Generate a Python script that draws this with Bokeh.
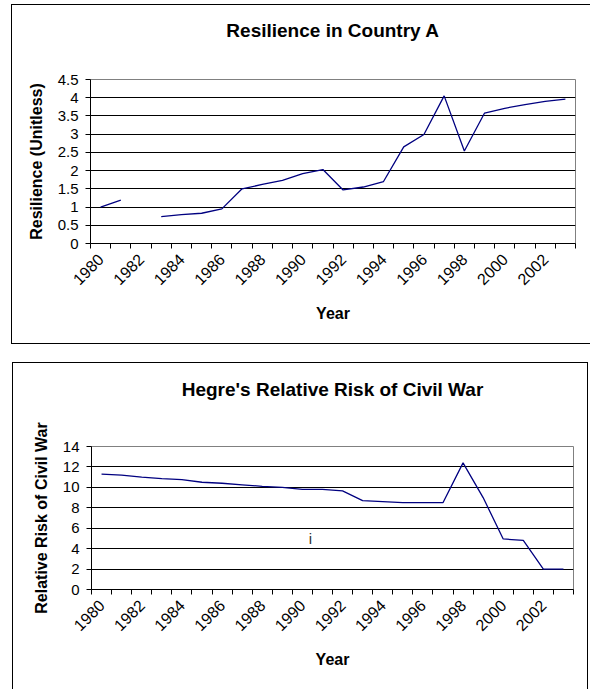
import math
from bokeh.plotting import figure
from bokeh.models import (Range1d, FixedTicker, LinearAxis, Label, NumeralTickFormatter,
                          CustomJSTickFormatter)
from bokeh.layouts import column
from bokeh.embed import file_html
from bokeh.resources import INLINE

# ---- data ----
years = [1980, 1981, 1982, 1983, 1984, 1985, 1986, 1987, 1988, 1989, 1990, 1991,
         1992, 1993, 1994, 1995, 1996, 1997, 1998, 1999, 2000, 2001, 2002, 2003]
resilience = [1.00, 1.19, float("nan"), 0.74, 0.79, 0.83, 0.95, 1.50, 1.62, 1.73, 1.92, 2.03,
              1.47, 1.55, 1.70, 2.65, 2.99, 4.05, 2.54, 3.58, 3.71, 3.81, 3.90, 3.96]
risk = [11.3, 11.2, 11.0, 10.85, 10.75, 10.5, 10.4, 10.25, 10.1, 10.0, 9.8, 9.8,
        9.65, 8.7, 8.6, 8.5, 8.5, 8.5, 12.4, 9.0, 4.95, 4.8, 2.0, 2.0]
label_years = [1980, 1982, 1984, 1986, 1988, 1990, 1992, 1994, 1996, 1998, 2000, 2002]
res_ticks = [0, 0.5, 1, 1.5, 2, 2.5, 3, 3.5, 4, 4.5]
risk_ticks = [0, 2, 4, 6, 8, 10, 12, 14]
stray_text = "i"
stray_x = 1990.4
stray_y = 5.0

FONT = "Liberation Sans"
LINE = "#000080"
boundaries = [y - 0.5 for y in years] + [years[-1] + 0.5]
X0, X1 = years[0] - 0.5, years[-1] + 0.5


def make_chart(title, ylabel, yvals, yticks, ymax, width, height, mb, frame_left, frame_w,
               title_cx, title_gap, shadow, margin, fmt=None):
    p = figure(width=width, height=height,
               x_range=Range1d(X0, X1), y_range=Range1d(0, ymax),
               x_axis_type=None, output_backend="svg", toolbar_location=None,
               min_border_left=mb[0], min_border_right=mb[1],
               min_border_top=mb[2], min_border_bottom=mb[3])
    p.margin = margin
    p.styles = {"box-shadow": shadow}
    p.border_fill_color = None
    p.background_fill_color = "white"
    p.outline_line_color = "#808080"
    p.outline_line_width = 1

    # chart title drawn as the label of an invisible axis above the frame,
    # centred (through the axis bounds) on the chart box rather than the frame
    cx = X0 + (title_cx - frame_left) * (X1 - X0) / frame_w
    title_axis = LinearAxis(ticker=FixedTicker(ticks=[cx]),
                            formatter=CustomJSTickFormatter(code="return ''"),
                            bounds=(X0, 2 * cx - X0),
                            axis_line_color=None, major_tick_line_color=None,
                            minor_tick_line_color=None,
                            major_tick_in=0, major_tick_out=0, minor_tick_out=0,
                            major_label_standoff=0, major_label_text_font_size="1px",
                            axis_label=title, axis_label_standoff=title_gap,
                            axis_label_text_font=FONT, axis_label_text_font_size="19px",
                            axis_label_text_font_style="bold",
                            axis_label_text_color="black")
    p.add_layout(title_axis, "above")

    yt = FixedTicker(ticks=yticks)
    ax = p.yaxis[0]
    ax.ticker = yt
    if fmt is not None:
        ax.formatter = fmt
    ax.axis_label = ylabel
    ax.axis_label_text_font = FONT
    ax.axis_label_text_font_size = "16px"
    ax.axis_label_text_font_style = "bold"
    ax.axis_label_text_color = "black"
    ax.axis_label_standoff = 10
    ax.major_label_text_font = FONT
    ax.major_label_text_font_size = "15px"
    ax.major_label_text_color = "black"
    ax.major_label_standoff = 7
    ax.major_tick_out = 5
    ax.major_tick_in = 0
    ax.minor_tick_line_color = None
    ax.axis_line_color = "black"
    ax.major_tick_line_color = "black"

    p.ygrid.ticker = yt
    p.ygrid.grid_line_color = "black"
    p.ygrid.grid_line_width = 1

    ax_ticks = LinearAxis(ticker=FixedTicker(ticks=boundaries),
                          formatter=CustomJSTickFormatter(code="return ''"),
                          major_tick_out=5, major_tick_in=0,
                          major_label_standoff=0,
                          minor_tick_line_color=None,
                          axis_line_color="black", major_tick_line_color="black")
    ax_lab = LinearAxis(ticker=FixedTicker(ticks=label_years),
                        major_tick_line_color=None, minor_tick_line_color=None,
                        axis_line_color=None,
                        major_label_orientation=math.pi / 4,
                        major_label_standoff=2,
                        major_label_text_font=FONT, major_label_text_font_size="16px",
                        major_label_text_color="black",
                        axis_label="Year", axis_label_text_font=FONT,
                        axis_label_text_font_size="16px",
                        axis_label_text_font_style="bold",
                        axis_label_text_color="black",
                        axis_label_standoff=12)
    p.add_layout(ax_ticks, "below")
    p.add_layout(ax_lab, "below")

    p.line(years, yvals, line_color=LINE, line_width=1.3)
    return p


p1 = make_chart("Resilience in Country A", "Resilience (Unitless)", resilience, res_ticks, 4.5,
                width=579, height=340, mb=(79, 8, 75, 101), frame_left=90, frame_w=492,
                title_cx=302, title_gap=39,
                shadow="inset 1px 1px 0 0 #000, inset 0 -1px 0 0 #000",
                margin=(4, 0, 0, 11), fmt=NumeralTickFormatter(format="0.[0]"))

p2 = make_chart("Hegre's Relative Risk of Civil War", "Relative Risk of Civil War", risk,
                risk_ticks, 14,
                width=576, height=327, mb=(75, 15, 84, 100), frame_left=87, frame_w=486,
                title_cx=299, title_gap=47,
                shadow="inset 1px 1px 0 0 #000, inset -1px 0 0 0 #000",
                margin=(18, 0, 0, 12))
p2.add_layout(Label(x=stray_x, y=stray_y, text=stray_text, text_font=FONT,
                    text_font_size="15px", text_align="center", text_baseline="middle",
                    text_color="#333333"))

layout = column(p1, p2, spacing=0)
open("out.html", "w").write(file_html(layout, INLINE))
